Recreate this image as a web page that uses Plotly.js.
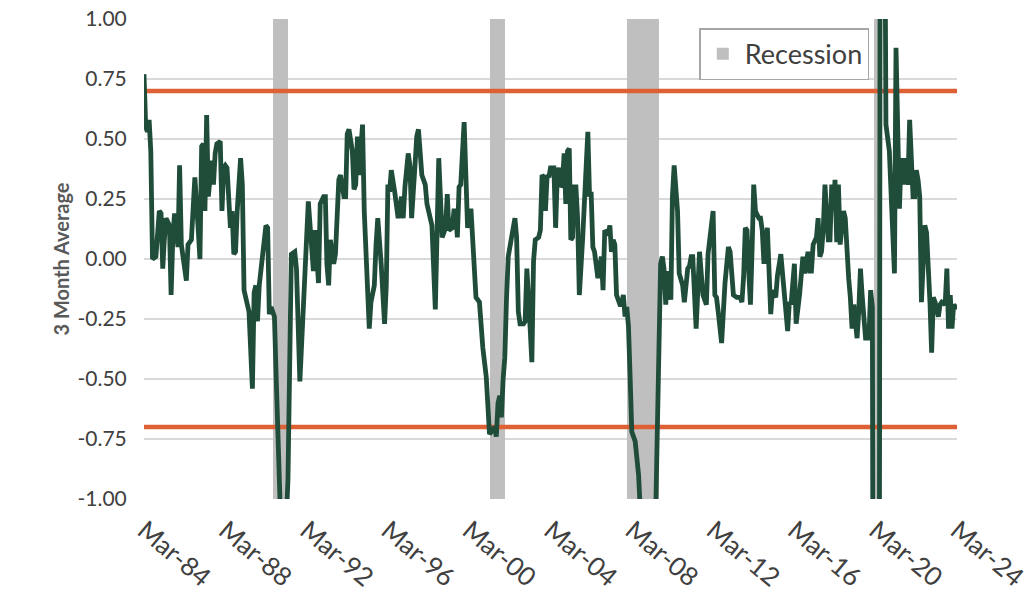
<!DOCTYPE html>
<html><head><meta charset="utf-8">
<script src="https://cdn.plot.ly/plotly-3.0.1.min.js"></script>
<style>html,body{margin:0;padding:0;background:#fff}#chart{width:1035px;height:603px}</style>
</head><body><div id="chart"></div>
<script>
// Monthly readings (3 month average) — month, value
const dates = [
'1984-03','1984-04','1984-05','1984-06','1984-07','1984-08','1984-10','1984-12',
'1985-01','1985-02','1985-03','1985-04','1985-06','1985-07','1985-08','1985-09','1985-11','1985-12',
'1986-01','1986-03','1986-04','1986-05','1986-07','1986-09','1986-10','1986-11','1986-12',
'1987-01','1987-02','1987-03','1987-04','1987-05','1987-07','1987-08','1987-09','1987-10','1987-12',
'1988-01','1988-02','1988-03','1988-04','1988-05','1988-06','1988-07','1988-08','1988-09','1988-10','1988-12',
'1989-01','1989-02','1989-04','1989-05','1989-07','1989-08','1989-09','1989-10','1989-11',
'1990-01','1990-03','1990-04','1990-05','1990-06','1990-08','1990-09','1990-10','1990-11','1990-12',
'1991-01','1991-02','1991-03','1991-04','1991-06','1991-08','1991-09','1991-10','1991-11',
'1992-04','1992-05','1992-07','1992-08','1992-09','1992-10','1992-11',
'1993-01','1993-02','1993-03','1993-04','1993-05','1993-07','1993-08','1993-10','1993-11',
'1994-01','1994-02','1994-03','1994-04','1994-06','1994-07','1994-08','1994-09','1994-10','1994-12',
'1995-01','1995-04','1995-05','1995-07','1995-08','1995-09','1995-11',
'1996-01','1996-02','1996-03','1996-04','1996-05','1996-07','1996-08','1996-09','1996-11','1996-12',
'1997-01','1997-03','1997-04','1997-05','1997-07','1997-08','1997-09','1997-11',
'1998-01','1998-02','1998-04','1998-05','1998-07','1998-09','1998-11','1998-12',
'1999-01','1999-02','1999-03','1999-05','1999-06','1999-07','1999-08','1999-09','1999-10','1999-12',
'2000-01','2000-02','2000-04','2000-07','2000-09','2000-11',
'2001-01','2001-02','2001-03','2001-04','2001-06','2001-07','2001-08','2001-09','2001-10','2001-11','2001-12',
'2002-01','2002-02','2002-04','2002-06','2002-07','2002-08','2002-09','2002-11','2002-12',
'2003-01','2003-02','2003-04','2003-05','2003-06','2003-08','2003-09','2003-10','2003-11','2003-12',
'2004-01','2004-02','2004-03','2004-05','2004-06','2004-07','2004-08','2004-09','2004-10','2004-11','2004-12',
'2005-01','2005-02','2005-03','2005-04','2005-05','2005-06','2005-07','2005-08','2005-10',
'2006-01','2006-02','2006-03','2006-04','2006-05','2006-07','2006-08','2006-09','2006-10','2006-11',
'2007-01','2007-02','2007-03','2007-04','2007-05','2007-06','2007-08','2007-09','2007-10','2007-11','2007-12',
'2008-01','2008-02','2008-03','2008-05','2008-07','2008-08','2008-09','2008-10','2008-11','2008-12',
'2009-01','2009-02','2009-03','2009-04','2009-05','2009-08','2009-09','2009-10','2009-11','2009-12',
'2010-02','2010-03','2010-04','2010-06','2010-07','2010-09','2010-10','2010-12',
'2011-01','2011-02','2011-03','2011-05','2011-07','2011-09','2011-10','2011-11','2011-12',
'2012-01','2012-03','2012-04','2012-05','2012-06','2012-08','2012-10','2012-12',
'2013-01','2013-02','2013-03','2013-05','2013-07','2013-08','2013-09','2013-10','2013-11','2013-12',
'2014-01','2014-02','2014-03','2014-04','2014-06','2014-07','2014-08','2014-09','2014-11',
'2015-01','2015-02','2015-04','2015-05','2015-07','2015-09','2015-11','2015-12',
'2016-01','2016-03','2016-04','2016-06','2016-07','2016-08','2016-09','2016-11','2016-12',
'2017-01','2017-02','2017-04','2017-05','2017-06','2017-07','2017-08','2017-09','2017-11','2017-12',
'2018-01','2018-02','2018-03','2018-04','2018-05','2018-06','2018-08','2018-09','2018-10','2018-11','2018-12',
'2019-01','2019-02','2019-04','2019-05','2019-06','2019-07','2019-09','2019-11','2019-12',
'2020-01','2020-02','2020-03','2020-04','2020-05','2020-06','2020-07','2020-08','2020-09','2020-11','2020-12',
'2021-02','2021-03','2021-05','2021-06','2021-07','2021-08','2021-10','2021-11',
'2022-01','2022-02','2022-03','2022-04','2022-05','2022-06','2022-07','2022-08','2022-09','2022-10','2022-11','2022-12',
'2023-01','2023-02','2023-04','2023-05','2023-06','2023-08','2023-09','2023-10','2023-11','2023-12',
'2024-01','2024-02','2024-03'
];
const values = [
0.77,0.55,0.53,0.58,0.45,0.00,0.01,0.20,
0.19,-0.04,0.08,0.17,0.14,-0.15,0.09,0.19,0.05,0.39,
0.06,-0.06,-0.09,0.06,0.08,0.34,0.19,0.12,0.00,
0.47,0.48,0.20,0.60,0.26,0.41,0.31,0.44,0.48,0.49,
0.20,0.38,0.39,0.38,0.23,0.13,0.20,0.02,0.03,0.20,0.42,
0.31,-0.13,-0.19,-0.22,-0.54,-0.14,-0.11,-0.26,-0.11,
0.01,0.14,0.13,-0.23,-0.20,-0.24,-0.49,-0.90,-1.15,-1.35,
-1.40,-1.25,-1.05,-0.92,0.02,0.03,-0.04,-0.36,-0.51,
0.24,0.14,-0.05,0.12,-0.05,-0.10,0.23,
0.26,0.26,-0.02,-0.11,0.08,-0.02,0.02,0.33,0.35,
0.26,0.26,0.52,0.54,0.45,0.29,0.31,0.51,0.35,0.56,
0.20,-0.29,-0.18,-0.11,0.06,0.17,-0.02,
-0.27,-0.11,0.31,0.28,0.37,0.28,0.21,0.17,0.26,0.17,
0.30,0.44,0.39,0.17,0.39,0.51,0.54,0.35,
0.31,0.23,0.17,0.14,-0.21,0.42,0.09,0.12,
0.13,0.27,0.12,0.13,0.20,0.20,0.09,0.30,0.31,0.57,
0.39,0.13,0.21,-0.16,-0.18,-0.37,
-0.49,-0.63,-0.73,-0.72,-0.70,-0.74,-0.60,-0.57,-0.66,-0.50,-0.41,
-0.16,0.01,0.09,0.17,0.09,-0.22,-0.27,-0.27,-0.26,
-0.04,-0.16,-0.43,-0.01,0.08,0.09,0.12,0.35,0.34,0.20,
0.35,0.34,0.38,0.38,0.13,0.35,0.38,0.30,0.31,0.44,0.23,
0.45,0.46,0.08,0.09,0.30,0.30,0.17,-0.15,0.09,
0.53,0.26,0.28,0.05,0.03,-0.08,-0.04,0.01,-0.13,0.12,
0.10,0.14,0.03,0.08,0.06,-0.15,-0.19,-0.19,-0.15,-0.24,-0.20,
-0.28,-0.50,-0.72,-0.76,-0.90,-1.05,-1.40,-2.00,-2.60,-3.10,
-3.50,-3.40,-3.00,-2.20,-1.10,-0.02,0.01,-0.04,-0.19,-0.05,
-0.17,0.26,0.39,0.20,-0.06,-0.11,-0.18,-0.04,
-0.03,0.01,0.01,-0.29,0.03,-0.15,-0.17,-0.19,0.02,
0.10,0.20,-0.15,-0.16,-0.22,-0.35,-0.10,0.05,
0.03,-0.04,-0.15,-0.16,-0.16,-0.18,-0.07,0.13,0.12,-0.05,
-0.19,0.05,0.31,0.20,0.17,0.17,0.12,-0.02,0.13,
-0.23,-0.13,-0.16,-0.07,0.02,-0.16,-0.30,-0.18,
-0.19,-0.02,-0.27,-0.15,-0.05,0.01,-0.06,0.03,-0.05,
-0.05,0.06,0.09,0.17,0.01,0.03,0.12,0.31,0.08,0.08,
0.31,0.20,0.33,0.07,0.31,0.06,0.20,0.17,0.01,-0.08,-0.16,
-0.29,-0.19,-0.33,-0.22,-0.04,-0.15,-0.33,-0.33,-0.13,
-0.20,-4.50,-7.00,-6.50,-2.50,4.00,3.50,2.00,0.56,0.45,0.30,
-0.06,0.88,0.21,0.42,0.31,0.42,0.31,0.58,
0.26,0.26,0.37,0.33,0.26,-0.18,-0.03,0.14,0.11,-0.02,-0.18,-0.39,
-0.16,-0.18,-0.24,-0.19,-0.18,-0.19,-0.04,-0.29,-0.15,-0.29,
-0.19,-0.20,-0.20
];
// Recession periods (first month, first month after end)
const recessionStart = ['1990-07-01','2001-03-01','2007-12-01','2020-02-01'];
const recessionEndExcl = ['1991-04-01','2001-12-01','2009-07-01','2020-05-01'];
const thresholds = [0.7, -0.7];
const xRange = ['1984-03-01','2024-03-01'];
const xTickVals = ['1984-03-01','1988-03-01','1992-03-01','1996-03-01','2000-03-01','2004-03-01','2008-03-01','2012-03-01','2016-03-01','2020-03-01','2024-03-01'];
const xTickText = ['Mar-84','Mar-88','Mar-92','Mar-96','Mar-00','Mar-04','Mar-08','Mar-12','Mar-16','Mar-20','Mar-24'];
const yTickVals = [-1,-0.75,-0.5,-0.25,0,0.25,0.5,0.75,1];
const yTickText = ['-1.00','-0.75','-0.50','-0.25','0.00','0.25','0.50','0.75','1.00'];

const FONT = 'Lato, "Liberation Sans", sans-serif';
const traces = [];
traces.push({
  type:'bar', name:'Recession',
  x: recessionStart,
  width: recessionStart.map((s,i)=> new Date(recessionEndExcl[i]) - new Date(s)),
  offset: 0,
  y: recessionStart.map(()=>2), base: -1,
  marker:{color:'#BFBFBF', line:{width:0}},
  hoverinfo:'skip', showlegend:true
});
thresholds.forEach(t=>{
  traces.push({type:'scatter', mode:'lines', x:xRange, y:[t,t], line:{color:'#DD6135', width:4.5}, showlegend:false, hoverinfo:'skip'});
});
traces.push({type:'scatter', mode:'lines', x:dates, y:values, line:{color:'#1F4D3A', width:4.8}, showlegend:false, name:'3 Month Average'});

const layout = {
  width:1035, height:603,
  margin:{l:144, r:78, t:19, b:104},
  paper_bgcolor:'#fff', plot_bgcolor:'#fff',
  font:{family:FONT, color:'#404040'},
  bargap:0,
  showlegend:true,
  legend:{x:0.683, y:0.981, xanchor:'left', yanchor:'top', bgcolor:'#fff', bordercolor:'#A6A6A6', borderwidth:1.5,
          itemwidth:34, font:{size:27, color:'#404040', family:FONT}},
  xaxis:{type:'date', range:xRange, tickvals:xTickVals, ticktext:xTickText, tickangle:40,
         tickfont:{size:26, color:'#404040'}, showgrid:false, zeroline:false, showline:false,
         ticks:'outside', ticklen:5, tickcolor:'rgba(0,0,0,0)'},
  yaxis:{range:[-1,1], tickvals:yTickVals, ticktext:yTickText, tickfont:{size:21, color:'#404040'},
         showgrid:true, gridcolor:'#D9D9D9', gridwidth:1.3, zeroline:false, showline:false,
         ticks:'outside', ticklen:12, tickcolor:'rgba(0,0,0,0)',
         title:{text:'3 Month Average', font:{size:20, color:'#595959', family:FONT, weight:'bold'}, standoff:2}}
};
Plotly.newPlot('chart', traces, layout, {displayModeBar:false, staticPlot:true});
</script></body></html>
